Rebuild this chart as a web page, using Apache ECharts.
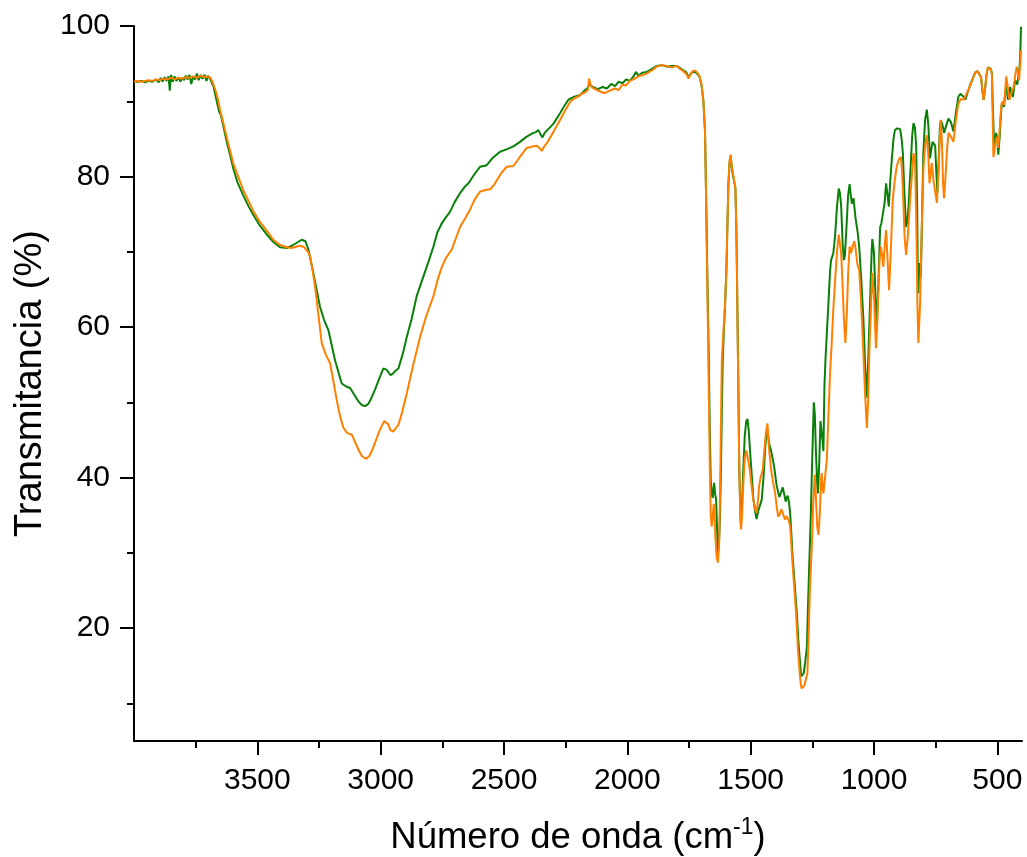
<!DOCTYPE html>
<html>
<head>
<meta charset="utf-8">
<script src="https://cdn.jsdelivr.net/npm/echarts@6/dist/echarts.min.js"></script>
<style>
html,body{margin:0;padding:0;background:#fff;overflow:hidden;}
#chart{width:1027px;height:857px;}
</style>
</head>
<body>
<div id="chart"></div>
<script>
// [wavenumber (cm-1), transmittance (%)]
const greenSpectrum = [[4000,92.6],[3985,92.6],[3970,92.7],[3955,92.5],[3940,92.7],[3925,92.6],[3910,92.9],[3900,92.5],[3892,93.1],[3884,92.6],[3876,93.2],[3868,92.7],[3860,93.3],[3855,91.4],[3850,93.5],[3843,92.6],[3836,93.3],[3828,92.7],[3820,93.2],[3812,92.6],[3805,93.1],[3797,92.8],[3790,93.4],[3782,92.9],[3775,93.5],[3768,92.3],[3760,93.3],[3752,92.9],[3745,93.7],[3738,92.8],[3730,93.5],[3722,93.0],[3714,93.5],[3706,92.7],[3700,93.4],[3692,93.0],[3686,93.2],[3678,92.0],[3670,90.8],[3662,90.6],[3655,88.6],[3648,88.2],[3640,87.0],[3624,84.6],[3610,82.8],[3597,81.0],[3580,79.2],[3557,77.5],[3535,76.0],[3516,74.9],[3490,73.5],[3462,72.3],[3435,71.3],[3408,70.6],[3381,70.5],[3360,70.8],[3340,71.2],[3320,71.6],[3305,71.4],[3293,70.3],[3273,67.2],[3246,62.7],[3230,61.0],[3212,59.6],[3185,55.6],[3158,52.5],[3140,52.1],[3124,51.9],[3105,50.9],[3090,50.1],[3075,49.6],[3063,49.5],[3050,49.8],[3040,50.4],[3023,51.7],[3005,53.2],[2989,54.5],[2975,54.3],[2960,53.6],[2950,53.8],[2940,54.2],[2928,54.5],[2910,56.5],[2894,58.7],[2875,61.0],[2854,64.1],[2827,66.7],[2805,68.8],[2786,70.7],[2770,72.6],[2752,73.8],[2735,74.6],[2719,75.3],[2700,76.6],[2678,77.8],[2660,78.6],[2644,79.1],[2620,80.3],[2597,81.3],[2570,81.5],[2545,82.5],[2516,83.3],[2490,83.6],[2462,84.0],[2435,84.6],[2408,85.3],[2381,85.8],[2370,85.9],[2361,86.2],[2352,85.6],[2344,85.2],[2335,85.8],[2327,86.0],[2300,87.0],[2273,88.4],[2255,89.4],[2239,90.2],[2215,90.6],[2192,90.8],[2171,91.5],[2160,91.8],[2154,92.4],[2146,92.0],[2138,91.9],[2120,91.6],[2100,91.9],[2083,91.7],[2065,92.3],[2050,92.0],[2035,92.6],[2020,92.4],[2005,92.9],[1990,92.7],[1975,93.3],[1965,93.9],[1955,93.4],[1940,93.8],[1921,93.9],[1900,94.3],[1881,94.7],[1860,94.8],[1840,94.6],[1820,94.7],[1800,94.7],[1786,94.4],[1773,94.1],[1760,93.8],[1752,93.1],[1745,93.6],[1735,93.9],[1725,93.9],[1715,93.6],[1708,93.3],[1700,92.3],[1692,90.2],[1685,86.0],[1681,77.8],[1676,68],[1671,58],[1666,47],[1662,39.7],[1658,37.8],[1654,37.3],[1650,38.8],[1648,39.3],[1644,37.8],[1640,37.1],[1636,33],[1633,30.0],[1628,31.5],[1624,35.3],[1620,42],[1617,48.6],[1613,56],[1608,60],[1604,62.8],[1598,68],[1594,74],[1590,79.2],[1585,82.0],[1581,82.7],[1576,81.0],[1572,80.2],[1566,80.2],[1562,78.5],[1558,73],[1556,68.3],[1551,55],[1546,41.0],[1542,35.5],[1539,34.0],[1535,36.5],[1530,41],[1524,45.5],[1518,47.5],[1513,47.8],[1508,46.3],[1503,43.8],[1496,40.5],[1489,37.2],[1482,35.5],[1476,34.5],[1470,35.5],[1465,36.0],[1455,37.1],[1448,40],[1442,43.5],[1436,46.0],[1432,46.3],[1425,44.5],[1418,43.7],[1414,43.5],[1405,41.5],[1395,39],[1384,37.4],[1377,38.0],[1370,38.7],[1364,37.8],[1358,36.8],[1354,37.3],[1350,37.6],[1345,36.8],[1340,35.3],[1335,32.5],[1330,29.5],[1322,26],[1313,22.0],[1306,18],[1300,15.5],[1295,13.6],[1292,13.4],[1285,14.0],[1279,15.4],[1272,17.5],[1266,24.7],[1261,30],[1256,35.3],[1250,43],[1244,50.0],[1240,48.5],[1235,43],[1230,39],[1227,37.9],[1222,42],[1217,47.5],[1214,47.7],[1209,45],[1205,43.5],[1201,52.1],[1197,55.5],[1192,58.7],[1185,63],[1178,67.5],[1174,68.9],[1165,69.8],[1158,72],[1150,76],[1143,78.4],[1138,77.8],[1133,76.0],[1127,71],[1122,68.9],[1118,69.5],[1112,73],[1105,77.5],[1099,79.0],[1094,77.5],[1090,76.4],[1083,77.1],[1075,74.5],[1066,72.5],[1060,70.7],[1052,66.5],[1043,61.0],[1036,55],[1029,50.6],[1024,55],[1016,63.2],[1010,69.5],[1007,71.7],[1003,70.8],[1000,69.8],[995,65],[989,60.3],[983,65],[975,73.3],[970,73.8],[964,73.7],[957,76.5],[951,79.1],[945,77.5],[940,76.0],[934,79.5],[928,82.2],[921,85],[915,86.2],[905,86.4],[894,86.3],[888,85],[883,83.1],[877,78],[870,73.3],[865,74],[860,76.0],[852,81],[845,85.5],[840,87.1],[834,86.5],[829,84.0],[825,76],[822,66],[820,64.5],[816,68.5],[813,67.5],[810,66.7],[805,75],[800,83.1],[793,87.5],[786,88.9],[780,87],[773,82.4],[768,83.5],[763,84.6],[757,84.8],[752,84.1],[748,81],[743,77.8],[738,82],[733,86.5],[729,87.5],[722,86.8],[716,85.8],[707,86.8],[698,87.7],[688,87.2],[678,86.0],[668,88.5],[658,90.6],[650,91.0],[644,91.1],[637,90.6],[630,90.2],[617,91.5],[605,92.6],[590,93.8],[580,94.0],[572,94.1],[566,93.2],[561,91.5],[556,90.2],[550,91.5],[544,93.5],[538,94.5],[532,94.6],[526,94.3],[522,93.7],[518,89],[513,84.0],[509,84.5],[505,85.8],[500,85],[496,82.9],[490,85.5],[486,88],[482,89.7],[478,89.8],[473,89.3],[468,91],[464,92.2],[460,91.2],[457,90.2],[452,91.2],[448,91.9],[442,91.0],[437,90.6],[432,91.8],[428,92.8],[423,92.5],[419,92.2],[414,93.5],[410,94.5],[408,95.5],[406,97.5],[404,99.9]];

const orangeSpectrum = [[4000,92.6],[3985,92.7],[3970,92.6],[3955,92.7],[3940,92.8],[3925,92.7],[3910,92.9],[3895,92.8],[3880,93.0],[3865,92.9],[3850,93.1],[3835,92.9],[3820,93.1],[3805,93.0],[3790,93.2],[3775,93.1],[3760,93.3],[3745,93.1],[3730,93.4],[3715,93.2],[3700,93.3],[3690,93.1],[3682,92.6],[3670,91.5],[3660,90.3],[3651,88.8],[3640,87.4],[3624,85.2],[3597,81.7],[3557,78.2],[3516,75.4],[3490,74.0],[3462,72.8],[3435,71.6],[3408,70.9],[3381,70.6],[3360,70.5],[3340,70.7],[3327,70.8],[3310,70.6],[3295,70.0],[3286,69.4],[3276,67.5],[3266,65.4],[3252,61.5],[3239,57.9],[3222,56.3],[3205,55.2],[3190,52.5],[3178,50.3],[3165,48.2],[3151,46.6],[3135,45.9],[3117,45.7],[3105,44.8],[3090,43.7],[3075,42.8],[3059,42.5],[3045,42.9],[3035,43.6],[3023,44.6],[3005,46.2],[2986,47.5],[2970,47.1],[2960,46.3],[2949,46.1],[2938,46.6],[2928,47.0],[2912,48.8],[2894,51.2],[2868,55],[2840,58.7],[2815,61.5],[2786,64.1],[2770,66.2],[2752,68.0],[2735,69.2],[2712,70.3],[2695,71.8],[2678,73.3],[2655,74.6],[2638,75.6],[2618,77.0],[2597,78.0],[2575,78.2],[2556,78.3],[2540,78.9],[2529,79.5],[2510,80.5],[2489,81.3],[2462,81.4],[2440,82.4],[2408,83.8],[2385,84.0],[2367,84.1],[2356,83.8],[2347,83.4],[2337,84.0],[2327,84.4],[2300,85.9],[2273,87.5],[2250,88.9],[2232,89.9],[2215,90.4],[2200,90.6],[2185,91.0],[2171,91.2],[2160,91.5],[2155,93.0],[2150,92.3],[2142,91.8],[2130,91.6],[2110,91.3],[2095,91.1],[2083,91.2],[2065,91.5],[2050,91.7],[2035,91.5],[2020,92.2],[2005,92.1],[1990,92.7],[1975,92.9],[1960,93.2],[1950,93.4],[1935,93.5],[1921,93.7],[1900,94.1],[1881,94.6],[1860,94.8],[1840,94.7],[1820,94.5],[1800,94.7],[1786,94.3],[1773,94.0],[1760,93.6],[1752,93.0],[1745,93.5],[1735,94.0],[1725,94.1],[1715,93.7],[1708,93.4],[1700,92.3],[1692,90.2],[1685,86.0],[1681,77.8],[1676,66],[1671,55],[1666,42],[1662,35],[1658,33.5],[1654,34.5],[1650,36.5],[1647,35.8],[1643,32],[1638,29.5],[1633,28.7],[1628,31],[1624,38],[1620,48],[1617,55.5],[1612,58.5],[1604,62.8],[1598,68],[1594,74],[1590,79.2],[1585,82.2],[1581,82.9],[1576,81.2],[1572,80.5],[1566,80.3],[1562,78.5],[1558,73],[1556,68.3],[1551,54],[1546,41.0],[1542,34.5],[1539,33.1],[1535,35],[1530,39],[1524,42.5],[1518,43.6],[1513,43.5],[1508,42],[1502,40.6],[1495,38.5],[1489,37.0],[1482,35.8],[1476,35.3],[1470,37],[1466,38.8],[1460,40],[1451,41.0],[1445,43.5],[1438,46],[1432,47.2],[1426,44],[1418,41.3],[1410,39.5],[1401,38.0],[1394,36],[1388,34.8],[1380,35.3],[1375,35.8],[1370,35.7],[1365,34.8],[1360,34.4],[1355,34.9],[1350,35.1],[1345,34.3],[1340,33.5],[1335,31],[1328,27.5],[1316,22.0],[1308,17],[1300,13.5],[1294,12.0],[1289,11.8],[1283,12.3],[1276,13.2],[1270,14.0],[1265,19],[1260,25],[1252,30.9],[1246,37],[1240,40.4],[1235,37],[1230,33.5],[1225,32.4],[1220,35],[1214,40.0],[1212,40.6],[1208,38.5],[1205,37.9],[1200,39.5],[1191,42.5],[1185,48],[1178,54],[1172,57.5],[1165,62.3],[1158,66],[1150,70],[1143,72.3],[1138,72.3],[1133,69.8],[1128,66],[1122,61],[1116,57.9],[1110,62],[1105,67],[1099,70.7],[1093,69.8],[1086,70.8],[1080,71.4],[1075,70.5],[1067,68.3],[1060,67.6],[1052,63],[1043,56.5],[1036,51],[1029,46.6],[1024,50],[1019,56.5],[1012,63],[1007,67.2],[1000,64],[992,57.2],[986,61],[982,65.4],[977,69],[972,70.7],[967,69.5],[962,68.0],[956,71],[951,72.9],[945,69],[939,64.9],[932,70],[924,76.9],[916,79.5],[908,81.3],[900,82.2],[891,82.6],[886,80.5],[881,76.5],[876,72],[870,69.6],[863,72],[857,75.1],[849,79],[840,83.1],[836,82.5],[833,81.3],[828,73],[824,63],[820,57.9],[816,61],[813,63.2],[808,71],[804,76],[800,80.9],[793,84],[786,85.5],[780,83],[775,79.1],[770,80.5],[766,81.8],[762,80.7],[759,79.5],[752,78],[745,76.5],[738,81],[733,85.5],[729,87.5],[724,84],[720,79],[716,77.1],[710,80],[704,83.5],[698,85.8],[688,85.3],[678,84.6],[668,87.5],[658,89.7],[648,90.3],[637,90.2],[630,90.0],[617,91.5],[605,92.5],[590,93.8],[580,94.0],[572,94.1],[566,93.2],[561,91.5],[556,90.2],[550,91.5],[544,93.5],[538,94.5],[532,94.6],[526,94.2],[522,93.5],[519,88],[516,82.6],[511,83.5],[506,84.8],[502,85.3],[499,84.7],[496,83.8],[490,86.5],[486,88.5],[482,89.7],[477,90],[473,89.5],[468,91.5],[464,93.3],[459,92.2],[455,91],[450,90.2],[446,90.8],[440,91.4],[435,91.7],[430,92.8],[426,93.8],[421,94.6],[417,93.8],[412,92.8],[409,94],[406,95.5],[404,96.8]];

const xMajorTicks = [500, 1000, 1500, 2000, 2500, 3000, 3500];
const xMinorTicks = [750, 1250, 1750, 2250, 2750, 3250, 3750];
const yMajorTicks = [20, 40, 60, 80, 100];
const yMinorTicks = [10, 30, 50, 70, 90];

const FONT = '"Liberation Sans", Arial, Helvetica, sans-serif';
const chart = echarts.init(document.getElementById('chart'), null, {renderer: 'canvas'});

const axisLineStyle = {show: true, lineStyle: {color: '#000', width: 2}};
const baseX = {type: 'value', min: 400, max: 4000, inverse: true, position: 'bottom', gridIndex: 0, splitLine: {show: false}};
const baseY = {type: 'value', min: 5, max: 100, position: 'left', gridIndex: 0, splitLine: {show: false}};
const plain = function (v) { return String(v); };

chart.setOption({
  animation: false,
  backgroundColor: '#fff',
  grid: {left: 134, right: 5, top: 26, bottom: 116, containLabel: false, outerBoundsMode: 'none'},
  xAxis: [
    Object.assign({}, baseX, {
      axisLine: axisLineStyle,
      axisTick: {show: true, inside: false, length: 14, lineStyle: {color: '#000', width: 2}, customValues: xMajorTicks},
      axisLabel: {show: true, margin: 25, fontSize: 30, color: '#000', fontFamily: FONT, customValues: xMajorTicks, formatter: plain},
      name: '{b|Número de onda (cm}{sup|-1}{b|)}',
      nameLocation: 'middle',
      nameGap: 75,
      nameTextStyle: {
        color: '#000', fontFamily: FONT, fontSize: 36.5,
        rich: {
          b: {fontSize: 36.5, fontFamily: FONT, color: '#000', verticalAlign: 'bottom', lineHeight: 40},
          sup: {fontSize: 23, fontFamily: FONT, color: '#000', verticalAlign: 'top', lineHeight: 23, padding: [0, 0, 28, 0]}
        }
      }
    }),
    Object.assign({}, baseX, {
      axisLine: {show: false},
      axisTick: {show: true, inside: false, length: 7, lineStyle: {color: '#000', width: 2}, customValues: xMinorTicks},
      axisLabel: {show: false}
    })
  ],
  yAxis: [
    Object.assign({}, baseY, {
      axisLine: axisLineStyle,
      axisTick: {show: true, inside: false, length: 14, lineStyle: {color: '#000', width: 2}, customValues: yMajorTicks},
      axisLabel: {show: true, margin: 24, fontSize: 30, color: '#000', fontFamily: FONT, customValues: yMajorTicks, formatter: plain},
      name: 'Transmitancia (%)',
      nameLocation: 'middle',
      nameGap: 78,
      nameTextStyle: {color: '#000', fontFamily: FONT, fontSize: 38}
    }),
    Object.assign({}, baseY, {
      axisLine: {show: false},
      axisTick: {show: true, inside: false, length: 7, lineStyle: {color: '#000', width: 2}, customValues: yMinorTicks},
      axisLabel: {show: false}
    })
  ],
  series: [
    {
      name: 'green', type: 'line', xAxisIndex: 0, yAxisIndex: 0,
      data: greenSpectrum, showSymbol: false, symbol: 'none',
      lineStyle: {color: '#0a800a', width: 2}, itemStyle: {color: '#0a800a'}, z: 2
    },
    {
      name: 'orange', type: 'line', xAxisIndex: 0, yAxisIndex: 0,
      data: orangeSpectrum, showSymbol: false, symbol: 'none',
      lineStyle: {color: '#ff8000', width: 2}, itemStyle: {color: '#ff8000'}, z: 3
    }
  ]
});
</script>
</body>
</html>
